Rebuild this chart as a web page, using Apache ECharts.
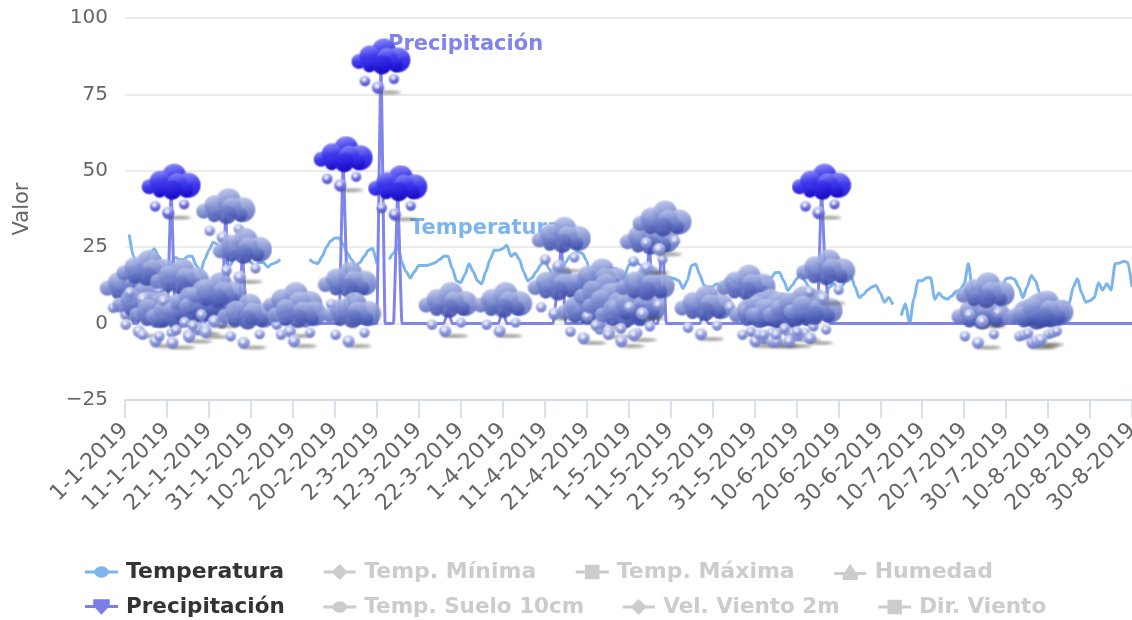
<!DOCTYPE html>
<html><head><meta charset="utf-8">
<style>html,body{margin:0;padding:0;background:#fff}#c{width:1132px;height:620px}</style>
<script src="https://cdn.jsdelivr.net/npm/echarts@6/dist/echarts.min.js"></script>
</head><body><div id="c"></div>
<script>
var monthLengths = [31,28,31,30,31,30,30,30];
var temperatura = [
null,29.2,22,19,18,20,23,24.5,22,20,
18,20,21.6,21,21,22,22,19,17,21,
24,26.6,26,24,20,19,21,22,24,22,
20,19,20,20,18.5,19.5,20,21,null,null,
null,null,null,null,21,20,19.7,22,25,27,
28,28,26,23,21,19,20,22,24,24.6,
19.7,null,null,21,23,25.5,20,17,15,17,
19,19,19,19.5,20,21,22,22,18,14,
13.4,16,19.6,17,14,13,17,21,24,24,
24.5,25.6,22,23,21,17,14,15,17,19,
21.6,18,16,15,17,20,22,23,23.5,23,
20.6,16,14,15,16,18,18,18,16,15,
19,20,20,19,18,18,17,16,15.5,
15,15,14.7,14,11.5,14,19,19.5,16,12.5,
12,12,13,12,14,15,14,13,13,14,
14,13,14,15,15,15,16.7,16.7,14,10.8,
12.5,14.5,16.4,14,12,11,10,9,10,12,
13,11,12.5,14.5,15.7,12,8.5,9.5,11,12,
12.5,10,7,8.5,6.2,null,2.6,6.5,0,8,
14,14,15,15,8,10,8.5,8,9,10.5,
11,13,19.6,11,12,11,10,10,9,9,
12,14.7,15,14.5,12,8.5,12,15.7,14,10,
9,8,8,7,7,7,6.5,12,14.7,10,
7,7.5,8.5,13.4,11,13,11,19.6,19.8,20.4,20,12
];
var precipitacion = [
0,9.8,0,0,4.3,14.8,0,0,1,0,
0,43,0.5,12,0,0,2.5,0,5,0,
4,0,7.5,0,35,0,0,0,22,0.5,
0,0,0,0,0,0,0,0,0,0,
4.3,1,0,0,0,0,0,0,0,0,
0,0,52,11,1,0,0,0,0,0,
0,84,0,0,0,42.5,0,0,0,0,
0,0,0,0,0,0,0,4.3,0,0,
0,0,0,0,0,0,0,0,0,0,
4.3,0,0,0,0,0,0,0,0,0,
0,0,0,10,25.6,0,0,0,0,
0,2,0,0,12,7,0,4,0,0,
1,0,0,3,0,10,25,0,0,31,
0,0,0,0,0,0,0,0,0,3.3,
0,0,0,0,0,0,0,0,0,10,
0,0,1,0,2,0,1,1,0,0,
1,0,3,0,0,2,0,43,15,0,
0,0,0,0,0,0,0,0,0,0,
0,0,0,0,0,0,0,0,0,0,
0,0,0,0,0,0,0,0,0,0,
0,0,0,0,0,0.5,7.5,0,0,0,
0,0,0,0,0,0,0,0,0.5,1,
1.5,0,0,0,0,0,0,0,0,0,
0,0,0,0,0,0,0,0,0,0,0,0
];
var yTicks = {min:-25, max:100, step:25};
var legendRow1 = ['Temperatura','Temp. Mínima','Temp. Máxima','Humedad'];
var legendRow2 = ['Precipitación','Temp. Suelo 10cm','Vel. Viento 2m','Dir. Viento'];
var hiddenSeries = ['Temp. Mínima','Temp. Máxima','Humedad','Temp. Suelo 10cm','Vel. Viento 2m','Dir. Viento'];
var heavyRain = 40;

var categories = [];
monthLengths.forEach(function(n,m){ for(var d=1;d<=n;d++) categories.push(d+'-'+(m+1)+'-2019'); });

function cloud(light,mid,dark,deep,dropLight,dropMid,dropDark,alpha){
  var S=3, cv=document.createElement('canvas'); cv.width=60*S; cv.height=58*S;
  var g=cv.getContext('2d'); g.scale(S,S);
  g.save(); g.filter='blur(4px)'; g.fillStyle='rgba(90,90,80,.65)';
  g.beginPath(); g.ellipse(37,54.5,13,1.6,0,0,7); g.fill(); g.restore();
  g.filter='blur(2px)';
  function ball(x,y,r,l,m,d){
    var q=g.createLinearGradient(x-r*.2,y-r,x+r*.2,y+r);
    q.addColorStop(0,l); q.addColorStop(.5,m); q.addColorStop(1,d);
    g.fillStyle=q; g.beginPath(); g.arc(x,y,r,0,7); g.fill();
  }
  [[14,43,5.4],[27,49.5,6.2],[43,41,5.2]].forEach(function(p){
    ball(p[0],p[1],p[2],dropLight,dropMid,dropDark);
    ball(p[0]-p[2]*.15,p[1]-p[2]*.2,p[2]*.4,'#f4f5ff','#e4e7fb','#d0d5f5');
  });
  g.globalAlpha=alpha;
  [[33,12.5,12],[8,23.5,7.5],[19,18,10.5],[47,22,12.5],[36,20,10]].forEach(function(b){ball(b[0],b[1],b[2],light,mid,dark);});
  [[18.5,28,6.5],[45,27,7]].forEach(function(b){ball(b[0],b[1],b[2],mid,dark,deep);});
  ball(31,27,9.5,mid,dark,deep);
  return 'image://'+cv.toDataURL();
}
var cloudHeavy = cloud('#8a8cf5','#403bec','#2a1fdc','#1608c0','#d8daf8','#7c7fe4','#4a4cc8',1);
var cloudLight = cloud('#bcc6ea','#7f8fd2','#5767bb','#3746a2','#e0e4f8','#98a3dc','#6a78c6',.9);

var lg = {
  circle:'M0 6.5H9A8 8 0 0 1 23 6.5H32V9.5H23A8 8 0 0 1 9 9.5H0Z',
  diamond:'M0 6.5H9.5L16 0L22.5 6.5H32V9.5H22.5L16 16L9.5 9.5H0Z',
  square:'M0 6.5H9V1H23V6.5H32V9.5H23V15H9V9.5H0Z',
  triangle:'M0 8H10.5L16 0L21.5 8H32V11H23.5V16H8.5V11H0Z',
  down:'M0 6.5H8V1H24V6.5H32V9.5H22L16 16L10 9.5H0Z'
};
var icons = {
 'Temperatura':lg.circle,'Temp. Mínima':lg.diamond,'Temp. Máxima':lg.square,'Humedad':lg.triangle,
 'Precipitación':lg.down,'Temp. Suelo 10cm':lg.circle,'Vel. Viento 2m':lg.diamond,'Dir. Viento':lg.square
};
var FONT='"DejaVu Sans"';
var selected={}; hiddenSeries.forEach(function(n){selected[n]=false;});
function legend(names,top,gap,size,pad){
  return {
    left:85, top:top, orient:'horizontal', itemGap:gap, itemWidth:33, itemHeight:16, selected:selected,
    inactiveColor:'#cccccc', padding:0,
    data:names.map(function(n){return {name:n,icon:'path://'+icons[n]};}),
    textStyle:{fontFamily:FONT,fontWeight:'bold',fontSize:size,color:'#333333',padding:[0,0,0,pad]}
  };
}
var series=[
 {name:'Temperatura',type:'line',data:temperatura,symbol:'none',smooth:.25,smoothMonotone:'x',connectNulls:false,
  lineStyle:{width:3,color:'#7cb5ec'},itemStyle:{color:'#7cb5ec'},z:2},
 {name:'Precipitación',type:'line',data:precipitacion,showAllSymbol:true,smooth:.15,smoothMonotone:'x',
  symbol:function(v){return v>0?(v>=heavyRain?cloudHeavy:cloudLight):'none';},
  symbolSize:[60,58],lineStyle:{width:3,color:'#8085e9'},itemStyle:{color:'#7a7ee6'},z:3}
];
hiddenSeries.forEach(function(n){series.push({name:n,type:'line',data:[],itemStyle:{color:'#cccccc'}});});

var chart=echarts.init(document.getElementById('c'),null,{renderer:'canvas'});
chart.setOption({
  animation:false, backgroundColor:'#fff',
  grid:{left:125,right:0,top:18,height:382,containLabel:false,outerBoundsMode:'none'},
  tooltip:{show:false},
  legend:[legend(legendRow1,561,39.5,22,3),legend(legendRow2,596,38.5,21.5,3)],
  xAxis:{type:'category',data:categories,boundaryGap:false,
    axisLine:{onZero:false,lineStyle:{color:'#ccd6eb',width:1.5}},
    axisTick:{show:true,interval:9,length:18,lineStyle:{color:'#ccd6eb',width:1.5}},
    axisLabel:{interval:9,rotate:45,margin:27,color:'#666666',fontFamily:FONT,fontSize:22,showMaxLabel:true,hideOverlap:false},
    splitLine:{show:false}},
  yAxis:{type:'value',min:yTicks.min,max:yTicks.max,interval:yTicks.step,name:'Valor',nameLocation:'middle',nameGap:92,
    nameTextStyle:{color:'#666666',fontFamily:FONT,fontSize:21},
    axisLine:{show:false},axisTick:{show:false},
    axisLabel:{margin:17,padding:[4,0,0,0],color:'#666666',fontFamily:FONT,fontSize:20,formatter:function(v){return String(v).replace('-','\u2212');}},
    splitLine:{lineStyle:{color:'#e6e6e6',width:1.5}}},
  graphic:[
    {type:'text',z:0,left:388,top:34,style:{text:'Precipitación',fill:'#8085e9',font:'bold 21px '+FONT}},
    {type:'text',z:0,left:410,top:218,style:{text:'Temperatura',fill:'#7cb5ec',font:'bold 21px '+FONT}}
  ],
  series:series
});
</script></body></html>
